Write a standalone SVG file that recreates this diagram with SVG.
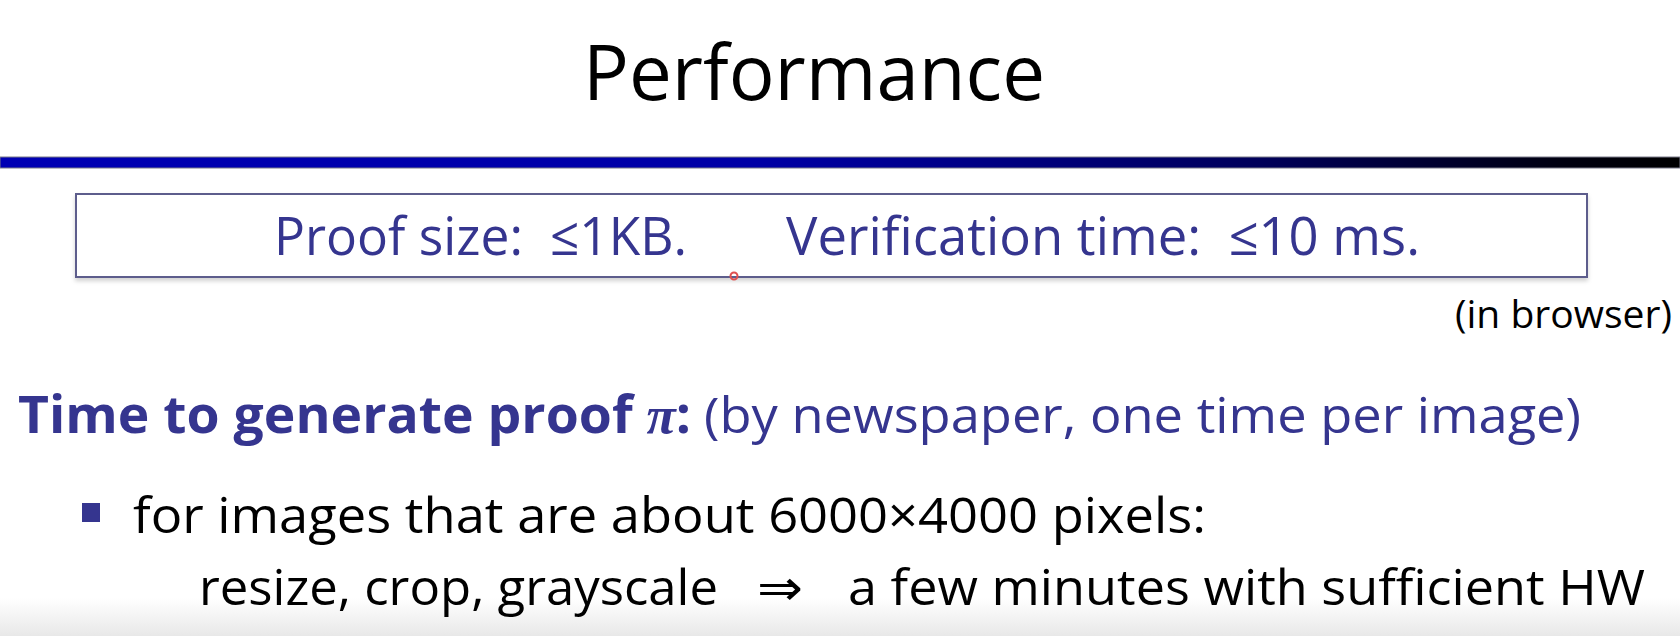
<svg xmlns="http://www.w3.org/2000/svg" width="1680" height="636" viewBox="0 0 1680 636">
  <defs>
    <linearGradient id="barGrad" x1="0" y1="0" x2="1" y2="0">
      <stop offset="0" stop-color="#0000b4"/>
      <stop offset="0.45" stop-color="#0000a6"/>
      <stop offset="0.75" stop-color="#00005a"/>
      <stop offset="0.93" stop-color="#000010"/>
      <stop offset="1" stop-color="#000000"/>
    </linearGradient>
    <linearGradient id="bottomGrad" x1="0" y1="0" x2="0" y2="1">
      <stop offset="0" stop-color="#ffffff"/>
      <stop offset="1" stop-color="#e8e8e8"/>
    </linearGradient>
    <filter id="shadow" x="-2%" y="-10%" width="104%" height="130%">
      <feDropShadow dx="0" dy="3" stdDeviation="2" flood-color="#000" flood-opacity="0.18"/>
    </filter>
  </defs>
  <style>
    .sans { font-family: "Open Sans", "Noto Sans", "DejaVu Sans", sans-serif; }
    .blue { fill: #35358f; }
    .black { fill: #000000; }
  </style>
  <rect x="0" y="0" width="1680" height="636" fill="#ffffff"/>
  <rect x="0" y="598" width="1680" height="38" fill="url(#bottomGrad)"/>

  <g id="title">
    <text class="sans black" x="583" y="100" font-size="77" textLength="462" lengthAdjust="spacingAndGlyphs">Performance</text>
  </g>

  <g id="title-bar">
    <rect x="0" y="157" width="1680" height="11" fill="url(#barGrad)" stroke="#7a7a8a" stroke-width="1"/>
  </g>

  <g id="summary-box">
    <rect x="76" y="194" width="1511" height="83" fill="#ffffff" stroke="#5d5d8c" stroke-width="2" filter="url(#shadow)"/>
    <text class="sans blue" x="274" y="255" font-size="53" textLength="413" lengthAdjust="spacingAndGlyphs" xml:space="preserve">Proof size:  ≤1KB.</text>
    <text class="sans blue" x="786" y="255" font-size="53" textLength="634" lengthAdjust="spacingAndGlyphs" xml:space="preserve">Verification time:  ≤10 ms.</text>
    <circle cx="734" cy="276" r="3.5" fill="none" stroke="#e05050" stroke-width="2"/>
  </g>

  <g id="browser-note">
    <text class="sans black" x="1455" y="328" font-size="38" textLength="217" lengthAdjust="spacingAndGlyphs">(in browser)</text>
  </g>

  <g id="heading">
    <text class="sans blue" x="18" y="433" font-size="52" font-weight="bold" textLength="673" lengthAdjust="spacingAndGlyphs">Time to generate proof <tspan font-family="'Liberation Serif', 'DejaVu Serif', serif" font-style="italic" font-weight="bold">π</tspan>:</text>
    <text class="sans blue" x="704" y="433" font-size="50" textLength="877" lengthAdjust="spacingAndGlyphs">(by newspaper, one time per image)</text>
  </g>

  <g id="bullet">
    <rect x="82" y="503" width="18" height="19" fill="#35358f"/>
    <text class="sans black" x="133" y="533" font-size="50" textLength="1073" lengthAdjust="spacingAndGlyphs">for images that are about 6000×4000 pixels:</text>
    <text class="sans black" x="199" y="605" font-size="50" textLength="519" lengthAdjust="spacingAndGlyphs">resize, crop, grayscale</text>
    <text class="sans black" x="757" y="605" font-size="50" textLength="46" lengthAdjust="spacingAndGlyphs">⇒</text>
    <text class="sans black" x="848" y="605" font-size="50" textLength="797" lengthAdjust="spacingAndGlyphs">a few minutes with sufficient HW</text>
  </g>
</svg>
